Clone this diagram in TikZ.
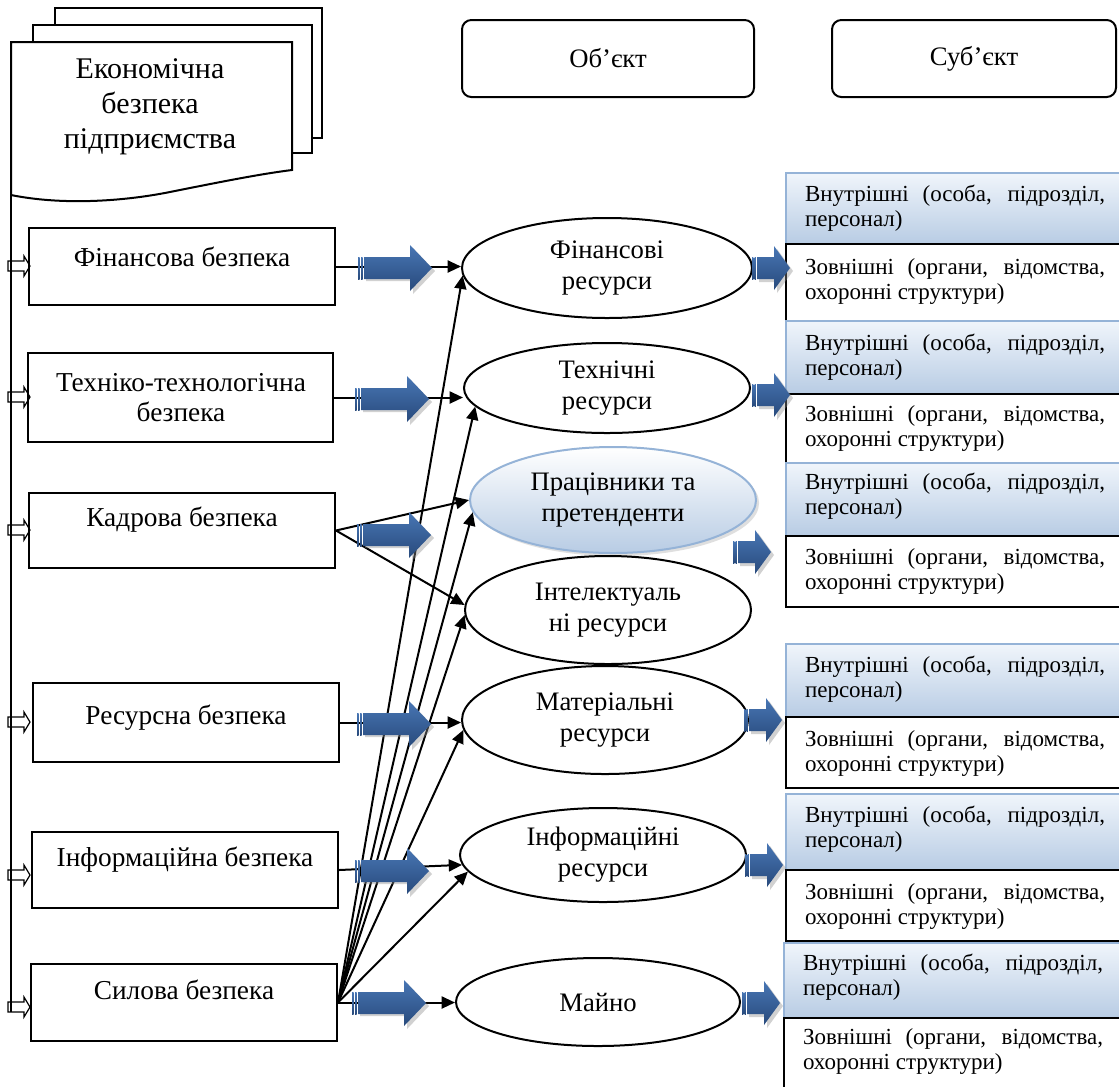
\documentclass[tikz,border=0pt]{standalone}
\usepackage{fontspec}
\setmainfont{Liberation Serif}
\usetikzlibrary{arrows.meta,shapes.geometric,shadows}
\definecolor{btop}{RGB}{72,118,180}
\definecolor{bmid}{RGB}{92,140,200}
\definecolor{bbot}{RGB}{40,74,124}
\definecolor{intop}{RGB}{240,245,251}
\definecolor{inbot}{RGB}{184,204,228}
\definecolor{inbord}{RGB}{149,179,215}
\tikzset{
  bigarr/.pic={
    \fill[black!45,opacity=.4] (8,-7) -- (55,-7) -- (55,-20) -- (77,3) -- (55,26) -- (55,13) -- (8,13) -- cycle;
    \shade[top color=btop,middle color=bmid,bottom color=bbot] (6,-11) -- (52,-11) -- (52,-23) -- (74,0) -- (52,23) -- (52,11) -- (6,11) -- cycle;
    \shade[top color=btop,middle color=bmid,bottom color=bbot] (0,-11) rectangle (1.6,11);
    \shade[top color=btop,middle color=bmid,bottom color=bbot] (3,-11) rectangle (4.6,11);
  },
  smallarr/.pic={
    \fill[black!45,opacity=.4] (7,-8) -- (25,-8) -- (25,-19) -- (41,3) -- (25,25) -- (25,14) -- (7,14) -- cycle;
    \shade[top color=btop,middle color=bmid,bottom color=bbot] (5,-11) -- (22,-11) -- (22,-22) -- (38,0) -- (22,22) -- (22,11) -- (5,11) -- cycle;
    \shade[top color=btop,middle color=bmid,bottom color=bbot] (0,-11) rectangle (1.3,11);
    \shade[top color=btop,middle color=bmid,bottom color=bbot] (2.5,-11) rectangle (3.8,11);
  },
  holarr/.pic={
    \draw[line width=0.9pt] (0,-5) -- (16,-5) -- (16,-10) -- (22,0) -- (16,10) -- (16,5) -- (0,5) -- cycle;
  }
}
\begin{document}
\begin{tikzpicture}[x=0.75pt,y=-0.75pt,line join=miter,
  lbox/.style={draw,line width=1.5pt,fill=white,inner sep=0pt},
  ltxt/.style={font=\fontsize{20.5}{22.5}\selectfont,align=center,inner sep=0pt},
  ell/.style={draw,ellipse,line width=1.5pt,fill=white,inner sep=0pt,align=center,font=\fontsize{20}{23.25}\selectfont},
  hdbox/.style={draw,line width=1.5pt,rounded corners=7pt,inner sep=0pt,font=\fontsize{20}{24}\selectfont},
  inbox/.style={draw=inbord,line width=1.3pt,top color=intop,bottom color=inbot,inner sep=0pt,anchor=north west,minimum width=255pt},
  outbox/.style={draw,line width=1.5pt,fill=white,inner sep=0pt,anchor=north west,minimum width=255pt},
  rtxt/.style={font=\fontsize{17.25}{18.75}\selectfont,align=left,inner sep=0pt},
  doctxt/.style={font=\fontsize{22.5}{26.25}\selectfont,align=center,inner sep=0pt},
  con/.style={line width=1.5pt,-{Triangle[length=10pt,width=9pt]}}
]
\useasboundingbox (0,0) rectangle (1119,1086);
\fill[white] (0,0) rectangle (1119,1086);

% multi-document
\draw[line width=1.5pt,fill=white] (55,8) rectangle (322,138);
\draw[line width=1.5pt,fill=white] (33,25) rectangle (312,153);
\draw[line width=1.5pt,fill=white] (11,195) -- (11,42) -- (292,42) -- (292,170)
  .. controls (260,174) and (220,182) .. (170,192) .. controls (120,202) and (60,205) .. (11,195);
\node[doctxt] (doc) at (150,107) {Економічна\\безпека\\підприємства};
\draw[line width=1.5pt] (11,195) -- (11,1012);

% header boxes
\node[hdbox,minimum width=219pt,minimum height=57.75pt] (obj) at (608,58.5) {Об’єкт};
\node[hdbox,minimum width=213pt,minimum height=57.75pt] (sub) at (974,58.5) {Суб’єкт};

% left boxes
\node[lbox,minimum width=229.5pt,minimum height=57.75pt] (fin) at (182,266.5) {};
\node[ltxt] (fint) at (182,257) {Фінансова безпека};
\node[lbox,minimum width=228.75pt,minimum height=66.75pt] (teh) at (180.5,397.5) {};
\node[ltxt] (teht) at (181,398) {Техніко-технологічна\\безпека};
\node[lbox,minimum width=229.5pt,minimum height=56.25pt] (kad) at (182,530.5) {};
\node[ltxt] (kadt) at (182,520) {Кадрова безпека};
\node[lbox,minimum width=229.5pt,minimum height=59.25pt] (res) at (186,722.5) {};
\node[ltxt] (rest) at (186,718) {Ресурсна безпека};
\node[lbox,minimum width=229.5pt,minimum height=57pt] (inf) at (185,870) {};
\node[ltxt] (inft) at (185,860) {Інформаційна безпека};
\node[lbox,minimum width=229.5pt,minimum height=57.75pt] (sil) at (184,1002.5) {};
\node[ltxt] (silt) at (184,990) {Силова безпека};

% hollow arrows
\foreach \yy in {266,397,530,722,875,1007} \pic at (8,\yy) {holarr};

% ellipses
\node[ell,minimum width=217.5pt,minimum height=75pt] (e1) at (607,268) {Фінансові\\ресурси};
\node[ell,minimum width=214.5pt,minimum height=67.5pt] (e2) at (607,388) {Технічні\\ресурси};
\node[ell,draw=inbord,top color=white,bottom color=inbot,drop shadow={opacity=.25},minimum width=214.5pt,minimum height=79.5pt] (e3) at (613,500) {Працівники та\\претенденти};
\node[ell,minimum width=214.5pt,minimum height=81pt] (e4) at (608,610) {Інтелектуаль\\ні ресурси};
\node[ell,minimum width=214.5pt,minimum height=81pt] (e5) at (605,720) {Матеріальні\\ресурси};
\node[ell,minimum width=214.5pt,minimum height=70.5pt] (e6) at (603,855) {Інформаційні\\ресурси};
\node[ell,minimum width=213pt,minimum height=66pt] (e7) at (598,1002) {Майно};

% connectors
\draw[con] (fin.east) -- (fin.east -| e1.west);
\draw[con] (teh.east) -- (teh.east -| e2.west);
\draw[con] (kad.east) -- (e3.180);
\draw[con] (kad.east) -- (e4.178);
\draw[con] (res.east) -- (res.east -| e5.west);
\draw[con] (inf.east) -- (e6.184);
\draw[con] (sil.east) -- (sil.east -| e7.west);
\draw[con] (sil.east) -- (e1.183);
\draw[con] (sil.east) -- (e2.188);
\draw[con] (sil.east) -- (e3.185);
\draw[con] (sil.east) -- (e4.182);
\draw[con] (sil.east) -- (e5.184);
\draw[con] (sil.east) -- (e6.187);

% big blue arrows
\pic at (358,268) {bigarr};
\pic at (355,399) {bigarr};
\pic at (357,535) {bigarr};
\pic at (357,724) {bigarr};
\pic at (355,871) {bigarr};
\pic at (352,1003) {bigarr};

% right groups
\node[inbox,minimum height=53.25pt] (g1i) at (785,172) {};
\node[outbox,minimum height=57.75pt] (g1o) at (785,243) {};
\node[inbox,minimum height=54.75pt] (g2i) at (785,320) {};
\node[outbox,minimum height=51.75pt] (g2o) at (785,393) {};
\node[inbox,minimum height=54.75pt] (g3i) at (785,462) {};
\node[outbox,minimum height=53.25pt] (g3o) at (785,535) {};
\node[inbox,minimum height=54.75pt] (g4i) at (785,643) {};
\node[outbox,minimum height=53.25pt] (g4o) at (785,716) {};
\node[inbox,minimum height=57pt] (g5i) at (785,793) {};
\node[outbox,minimum height=53.25pt] (g5o) at (785,869) {};
\node[inbox,minimum height=56.25pt] (g6i) at (783,942) {};
\node[outbox,minimum height=54.75pt] (g6o) at (783,1017) {};

\newcommand{\intext}{\makebox[225pt][s]{Внутрішні (особа, підрозділ,}\\персонал)}
\newcommand{\outtext}{\makebox[225pt][s]{Зовнішні (органи, відомства,}\\охоронні структури)}
\node[rtxt] (g1it) at (955,208) {\intext};
\node[rtxt] (g1ot) at (955,281) {\outtext};
\node[rtxt] (g2it) at (955,357) {\intext};
\node[rtxt] (g2ot) at (955,428) {\outtext};
\node[rtxt] (g3it) at (955,496.5) {\intext};
\node[rtxt] (g3ot) at (955,571) {\outtext};
\node[rtxt] (g4it) at (955,679.5) {\intext};
\node[rtxt] (g4ot) at (955,753) {\outtext};
\node[rtxt] (g5it) at (955,829.5) {\intext};
\node[rtxt] (g5ot) at (955,906.5) {\outtext};
\node[rtxt] (g6it) at (953,977.5) {\intext};
\node[rtxt] (g6ot) at (953,1051.5) {\outtext};

% small blue arrows
\pic at (752,268) {smallarr};
\pic at (752,395) {smallarr};
\pic at (733,552) {smallarr};
\pic at (744,720) {smallarr};
\pic at (745,865) {smallarr};
\pic at (742,1003) {smallarr};
\end{tikzpicture}
\end{document}
